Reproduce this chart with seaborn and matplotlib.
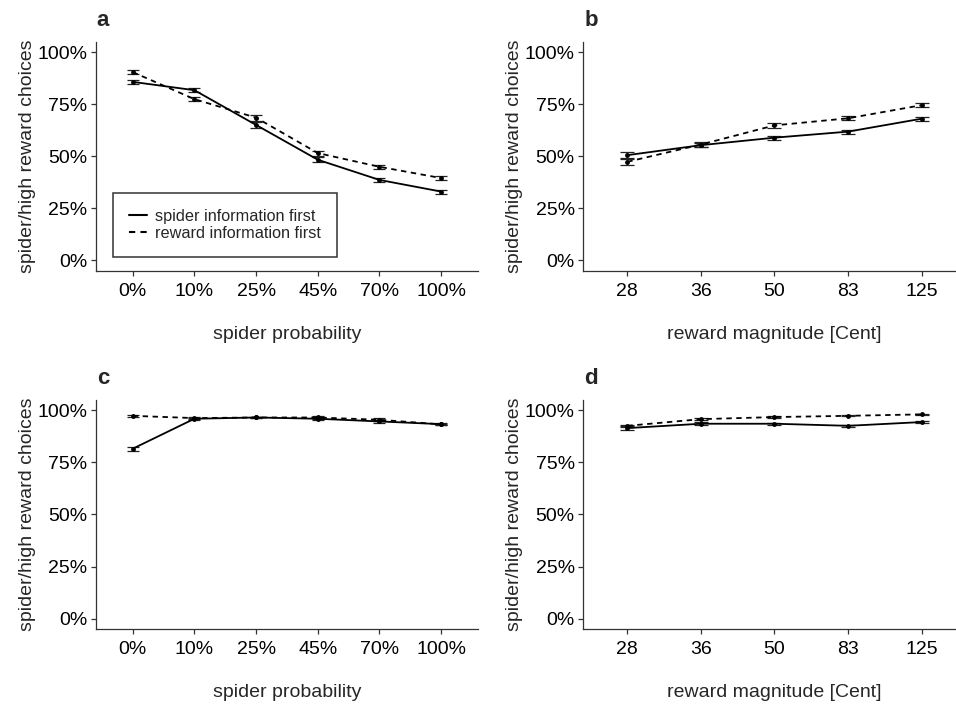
import matplotlib
matplotlib.use("Agg")
import matplotlib.pyplot as plt
from matplotlib.lines import Line2D
from matplotlib.ticker import PercentFormatter
import numpy as np
import pandas as pd
import seaborn as sns

sns.set_theme(style="ticks")
plt.rcParams["font.family"] = ["Liberation Sans", "DejaVu Sans"]

# data (proportion of spider/high reward choices)
spider_prob = ["0%", "10%", "25%", "45%", "70%", "100%"]
reward_mag = ["28", "36", "50", "83", "125"]
groups = ["spider information first", "reward information first"]

a_spider = [0.857, 0.817, 0.650, 0.483, 0.386, 0.330]
a_reward = [0.904, 0.774, 0.685, 0.515, 0.449, 0.395]
a_spider_se = [0.010, 0.010, 0.013, 0.013, 0.010, 0.010]
a_reward_se = [0.010, 0.010, 0.014, 0.012, 0.011, 0.011]

b_spider = [0.505, 0.553, 0.589, 0.618, 0.680]
b_reward = [0.473, 0.556, 0.648, 0.682, 0.745]
b_spider_se = [0.013, 0.010, 0.010, 0.009, 0.010]
b_reward_se = [0.014, 0.010, 0.011, 0.010, 0.010]

c_spider = [0.816, 0.960, 0.966, 0.960, 0.947, 0.934]
c_reward = [0.974, 0.963, 0.966, 0.966, 0.955, 0.933]
c_spider_se = [0.010, 0.005, 0.004, 0.006, 0.007, 0.004]
c_reward_se = [0.004, 0.004, 0.004, 0.006, 0.007, 0.004]

d_spider = [0.915, 0.936, 0.936, 0.926, 0.944]
d_reward = [0.926, 0.958, 0.968, 0.974, 0.981]
d_spider_se = [0.010, 0.006, 0.005, 0.005, 0.005]
d_reward_se = [0.006, 0.006, 0.004, 0.003, 0.004]

panels = [
    ("a", spider_prob, a_spider, a_reward, a_spider_se, a_reward_se, "spider probability"),
    ("b", reward_mag, b_spider, b_reward, b_spider_se, b_reward_se, "reward magnitude [Cent]"),
    ("c", spider_prob, c_spider, c_reward, c_spider_se, c_reward_se, "spider probability"),
    ("d", reward_mag, d_spider, d_reward, d_spider_se, d_reward_se, "reward magnitude [Cent]"),
]

W, H = 956, 704
fig = plt.figure(figsize=(W / 100, H / 100), dpi=100)

# axes boxes in pixels: left, top, width, height
boxes = {
    "a": (95.7, 41.7, 382.5, 229.0),
    "b": (583.2, 41.7, 382.5, 229.0),
    "c": (95.7, 400.0, 382.5, 229.0),
    "d": (583.2, 400.0, 382.5, 229.0),
}

dash = (3, 2.5)
axis_col = "#333333"
fs = 14

for letter, cats, spider, reward, spider_se, reward_se, xlabel in panels:
    l, t, w, h = boxes[letter]
    ax = fig.add_axes([l / W, 1 - (t + h) / H, w / W, h / H])
    n = len(cats)
    df = pd.DataFrame({
        "pos": list(range(n)) * 2,
        "value": spider + reward,
        "se": spider_se + reward_se,
        "group": [groups[0]] * n + [groups[1]] * n,
    })
    sns.lineplot(data=df, x="pos", y="value", style="group",
                 dashes={groups[0]: "", groups[1]: dash},
                 markers={groups[0]: "o", groups[1]: "o"}, markersize=3.5,
                 markeredgewidth=0, color="black", linewidth=1.3,
                 legend=False, ax=ax, zorder=3)
    # cap width = 0.2 of a category step, like the original
    cap = 0.1 * w / (n + 0.2) * 0.72
    for g in groups:
        sub = df[df["group"] == g]
        ax.errorbar(sub["pos"], sub["value"], yerr=sub["se"], fmt="none",
                    ecolor="#222222", elinewidth=0.9, capsize=cap,
                    capthick=0.9, zorder=2)

    ax.set_xlim(-0.6, n - 0.4)
    ax.set_ylim(-0.05, 1.05)
    ax.set_xticks(range(n))
    ax.set_xticklabels(cats)
    ax.set_yticks([0, 0.25, 0.5, 0.75, 1.0])
    ax.yaxis.set_major_formatter(PercentFormatter(1.0, decimals=0))
    ax.tick_params(axis="both", labelsize=fs, length=3.6, width=0.9,
                   color=axis_col, labelcolor="black")
    ax.tick_params(axis="x", pad=5.3)
    ax.tick_params(axis="y", pad=2.5)
    for side in ["top", "right"]:
        ax.spines[side].set_visible(False)
    for side in ["left", "bottom"]:
        ax.spines[side].set_color(axis_col)
        ax.spines[side].set_linewidth(0.9)

    ax.set_xlabel(xlabel, fontsize=fs)
    ax.set_ylabel("spider/high reward choices", fontsize=fs)
    ax.xaxis.set_label_coords(0.5, -0.24)
    ax.yaxis.set_label_coords(-0.157, 0.5)

    fig.text((l + 1) / W, 1 - (t - 21.5) / H, letter, fontsize=16,
             fontweight="bold", ha="left", va="center")

    if letter == "a":
        handles = [
            Line2D([], [], color="black", linewidth=1.5),
            Line2D([], [], color="black", linewidth=1.5, linestyle=(0, dash)),
        ]
        leg = ax.legend(handles, groups, loc="lower left",
                        bbox_to_anchor=(0.045, 0.06), borderaxespad=0,
                        fontsize=11.7, frameon=True, fancybox=False,
                        handlelength=1.1, handletextpad=0.5,
                        borderpad=1.0, labelspacing=0.12,
                        edgecolor="black")
        leg.get_frame().set_linewidth(1.1)
        leg.get_frame().set_boxstyle("square", pad=0)

fig.savefig("out.png", dpi=100)
